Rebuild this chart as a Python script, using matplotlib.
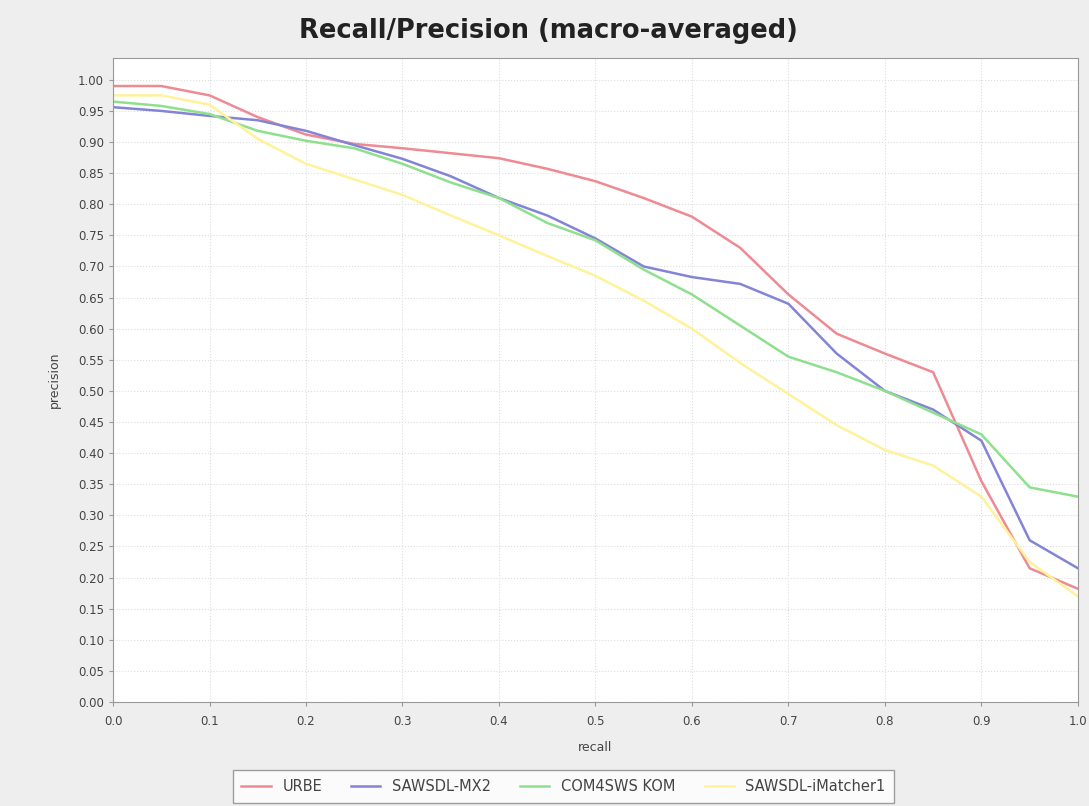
import numpy as np
import matplotlib
matplotlib.use('Agg')
import matplotlib.pyplot as plt

recall = [0.00, 0.05, 0.10, 0.15, 0.20, 0.25, 0.30, 0.35, 0.40, 0.45, 0.50,
          0.55, 0.60, 0.65, 0.70, 0.75, 0.80, 0.85, 0.90, 0.95, 1.00]

urbe = [0.990, 0.990, 0.975, 0.940, 0.912, 0.897, 0.890, 0.882, 0.874, 0.857, 0.837,
        0.810, 0.780, 0.730, 0.655, 0.592, 0.560, 0.530, 0.355, 0.215, 0.182]
mx2 = [0.956, 0.950, 0.942, 0.935, 0.918, 0.895, 0.873, 0.845, 0.810, 0.782, 0.745,
       0.700, 0.683, 0.672, 0.640, 0.560, 0.500, 0.470, 0.420, 0.260, 0.215]
com4sws = [0.965, 0.958, 0.945, 0.918, 0.902, 0.890, 0.865, 0.835, 0.810, 0.770, 0.742,
           0.695, 0.655, 0.605, 0.555, 0.530, 0.500, 0.465, 0.430, 0.345, 0.330]
imatcher = [0.975, 0.975, 0.960, 0.905, 0.865, 0.840, 0.815, 0.782, 0.750, 0.717, 0.685,
            0.645, 0.600, 0.545, 0.495, 0.445, 0.405, 0.380, 0.330, 0.225, 0.170]

series = [
    ('URBE', urbe, '#ee8a92'),
    ('SAWSDL-MX2', mx2, '#8484d6'),
    ('COM4SWS KOM', com4sws, '#8ee08e'),
    ('SAWSDL-iMatcher1', imatcher, '#fff29a'),
]

plt.rcParams['font.family'] = ['DejaVu Sans']

fig = plt.figure(figsize=(10.89, 8.06), dpi=100, facecolor='#eeeeee')
ax = fig.add_axes([0.1038, 0.129, 0.886, 0.799])
ax.set_facecolor('white')

for name, vals, col in series:
    ax.plot(recall, vals, color=col, linewidth=1.8, label=name)

ax.set_xlim(0, 1.0)
ax.set_ylim(0, 1.035)
ax.set_xticks(np.arange(0, 1.01, 0.1))
ax.set_xticklabels([f'{v:.1f}' for v in np.arange(0, 1.01, 0.1)])
ax.set_yticks(np.arange(0, 1.001, 0.05))
ax.set_yticklabels([f'{v:.2f}' for v in np.arange(0, 1.001, 0.05)])
ax.tick_params(labelsize=8.5, colors='#444444', length=3, color='#999999')
ax.tick_params(axis='x', pad=6)
ax.grid(True, color='#dddddd', linestyle=':', linewidth=0.8)
for s in ax.spines.values():
    s.set_color('#999999')

ax.set_xlabel('recall', fontsize=9, color='#444444', labelpad=10)
ax.set_ylabel('precision', fontsize=9, color='#444444', labelpad=12)
fig.text(0.5035, 0.962, 'Recall/Precision (macro-averaged)', ha='center', va='center',
         fontsize=18.5, fontweight='bold', color='#222222')

leg = fig.legend(loc='center', ncol=4, fontsize=10.5,
                 frameon=True, fancybox=False, edgecolor='#888888', facecolor='white',
                 handlelength=2.0, columnspacing=2.0, borderpad=0.6)
leg.set_bbox_to_anchor((0.5175, 0.0245), transform=fig.transFigure)
for t in leg.get_texts():
    t.set_color('#444444')

fig.savefig('out.png', dpi=100, facecolor=fig.get_facecolor())
